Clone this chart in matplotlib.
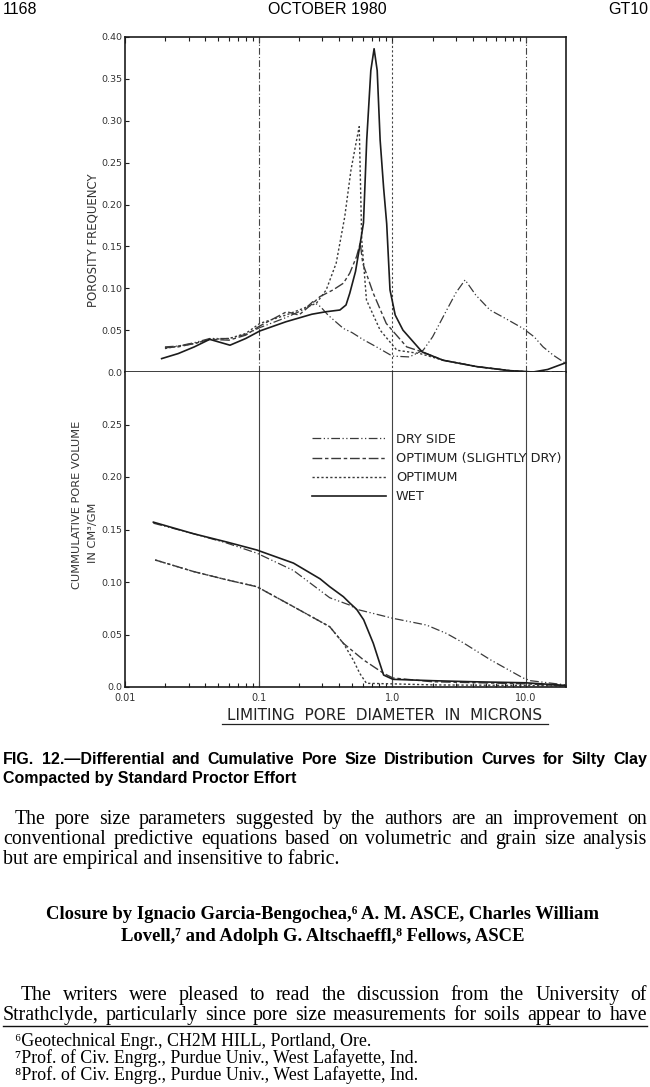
import matplotlib
matplotlib.use("Agg")
import matplotlib.pyplot as plt
from matplotlib.lines import Line2D

# ---------------- data ----------------
# Differential (porosity frequency) curves
wet_dx = [0.0188, 0.025, 0.033, 0.043, 0.061, 0.08, 0.102, 0.16, 0.25, 0.32, 0.405, 0.45, 0.48, 0.53, 0.57,
          0.608, 0.643, 0.69, 0.73, 0.77, 0.81, 0.86, 0.907, 0.96, 1.05, 1.2, 1.67, 2.4, 4.3, 7.6, 11.3, 14.5, 19.8]
wet_dy = [0.016, 0.022, 0.030, 0.039, 0.032, 0.040, 0.049, 0.060, 0.069, 0.072, 0.074, 0.080, 0.094, 0.12, 0.150,
          0.178, 0.277, 0.36, 0.386, 0.36, 0.277, 0.22, 0.177, 0.098, 0.068, 0.050, 0.024, 0.014, 0.0064, 0.0016, 0.0, 0.003, 0.011]

opt_dx = [0.0199, 0.025, 0.033, 0.043, 0.06, 0.08, 0.102, 0.16, 0.27, 0.32, 0.38, 0.44, 0.49, 0.54, 0.565,
          0.59, 0.64, 0.81, 1.08, 1.61, 2.4, 4.3, 7.6, 11.3, 19.8]
opt_dy = [0.028, 0.031, 0.034, 0.039, 0.040, 0.046, 0.058, 0.068, 0.082, 0.098, 0.130, 0.185, 0.241, 0.277, 0.293,
          0.158, 0.086, 0.050, 0.026, 0.022, 0.014, 0.0064, 0.0016, 0.0, 0.0]

sdry_dx = [0.0199, 0.025, 0.033, 0.043, 0.06, 0.08, 0.102, 0.162, 0.2, 0.254, 0.287, 0.36, 0.43, 0.48, 0.54,
           0.575, 0.60, 0.72, 0.90, 1.28, 1.67, 2.4, 4.3, 7.6, 11.3, 19.8]
sdry_dy = [0.029, 0.030, 0.034, 0.039, 0.038, 0.044, 0.055, 0.072, 0.068, 0.082, 0.090, 0.098, 0.106, 0.118, 0.138,
           0.154, 0.130, 0.094, 0.058, 0.030, 0.024, 0.014, 0.0064, 0.0016, 0.0, 0.0]

dry_dx = [0.0199, 0.025, 0.033, 0.043, 0.06, 0.08, 0.102, 0.16, 0.22, 0.254, 0.29, 0.33, 0.43, 0.5, 0.6, 0.76,
          1.0, 1.34, 1.7, 2.0, 2.55, 3.0, 3.5, 4.2, 5.37, 7.0, 9.5, 11.5, 13.4, 16.0, 19.5]
dry_dy = [0.030, 0.031, 0.035, 0.040, 0.040, 0.045, 0.053, 0.065, 0.075, 0.084, 0.078, 0.068, 0.052, 0.047, 0.039, 0.030,
          0.019, 0.018, 0.026, 0.042, 0.074, 0.095, 0.110, 0.092, 0.074, 0.064, 0.052, 0.042, 0.030, 0.020, 0.011]

# Cumulative pore volume curves
wet_cx = [0.0163, 0.0325, 0.058, 0.0967, 0.182, 0.288, 0.34, 0.43, 0.48, 0.54, 0.61, 0.72, 0.79, 0.86, 1.01, 2.0, 4.0, 10.0, 19.8]
wet_cy = [0.157, 0.146, 0.138, 0.1305, 0.118, 0.103, 0.0955, 0.086, 0.080, 0.074, 0.064, 0.0416, 0.0257, 0.0114, 0.0073,
          0.006, 0.005, 0.004, 0.0015]

dry_cx = [0.0163, 0.0325, 0.058, 0.0967, 0.182, 0.34, 0.48, 0.54, 1.01, 1.8, 2.54, 3.4, 5.4, 9.5, 10.8, 19.8]
dry_cy = [0.156, 0.146, 0.137, 0.1275, 0.111, 0.085, 0.078, 0.074, 0.0654, 0.059, 0.051, 0.042, 0.026, 0.0086, 0.006, 0.002]

sdry_cx = [0.0168, 0.0325, 0.058, 0.097, 0.182, 0.34, 0.43, 0.61, 0.86, 1.01, 2.0, 10.0, 19.8]
sdry_cy = [0.121, 0.110, 0.102, 0.0955, 0.0765, 0.0574, 0.0416, 0.0257, 0.013, 0.0086, 0.005, 0.003, 0.001]

opt_cx = [0.0168, 0.0325, 0.058, 0.097, 0.182, 0.34, 0.43, 0.51, 0.57, 0.64, 1.0, 2.0, 10.0, 19.8]
opt_cy = [0.121, 0.110, 0.102, 0.0955, 0.0765, 0.0574, 0.0416, 0.0257, 0.013, 0.0035, 0.003, 0.002, 0.0015, 0.001]

series_labels = ["DRY SIDE", "OPTIMUM (SLIGHTLY DRY)", "OPTIMUM", "WET"]

x_ticks = [0.01, 0.1, 1.0, 10.0]
x_ticklabels = ["0.01", "0.1", "1.0", "10.0"]
top_yticks = [0.0, 0.05, 0.10, 0.15, 0.20, 0.25, 0.30, 0.35, 0.40]
top_yticklabels = ["0.0", "0.05", "0.10", "0.15", "0.20", "0.25", "0.30", "0.35", "0.40"]
bot_yticks = [0.0, 0.05, 0.10, 0.15, 0.20, 0.25]
bot_yticklabels = ["0.0", "0.05", "0.10", "0.15", "0.20", "0.25"]

# ---------------- figure ----------------
W, H = 650, 1087
fig = plt.figure(figsize=(W / 100, H / 100), dpi=100)
fig.patch.set_facecolor("white")

def fx(px):
    return px / W

def fy(py):
    return 1 - py / H

ink = "#1c1c1c"
soft = "#3a3a3a"

styles = {
    "dry": dict(color=soft, lw=0.9, dashes=(7, 2, 1, 2, 1, 2)),
    "sdry": dict(color=soft, lw=1.0, dashes=(7, 2, 2.5, 2)),
    "opt": dict(color=soft, lw=1.0, dashes=(1.6, 1.6)),
    "wet": dict(color=ink, lw=1.2, linestyle="-"),
}

ax1 = fig.add_axes([fx(125), fy(372), (566 - 125) / W, (372 - 37) / H])
ax2 = fig.add_axes([fx(125), fy(687), (566 - 125) / W, (687 - 372) / H])

for ax in (ax1, ax2):
    ax.set_xscale("log")
    ax.set_xlim(0.01, 19.9)
    for sp in ax.spines.values():
        sp.set_color(ink)
        sp.set_linewidth(1.2)
    ax.tick_params(axis="y", which="both", direction="in", length=3, width=0.8, pad=2,
                   labelsize=6.8, labelcolor="#333333", colors=ink)

# vertical reference lines
for xv, d in zip(x_ticks[1:], [(6, 2, 1, 2), (2, 2), (6, 2, 1, 2)]):
    ax1.axvline(xv, color="#444444", lw=0.8, dashes=d)
    ax2.axvline(xv, color="#444444", lw=0.8)

# top panel
ax1.plot(dry_dx, dry_dy, **styles["dry"], clip_on=False)
ax1.plot(sdry_dx, sdry_dy, **styles["sdry"], clip_on=False)
ax1.plot(opt_dx, opt_dy, **styles["opt"], clip_on=False)
ax1.plot(wet_dx, wet_dy, **styles["wet"], clip_on=False)
ax1.set_ylim(0, 0.40)
ax1.set_yticks(top_yticks)
ax1.set_yticklabels(top_yticklabels)
ax1.set_xticks(x_ticks)
ax1.tick_params(axis="x", which="both", direction="in", top=True, bottom=False,
                labelbottom=False, length=4, width=0.8, colors=ink)
ax1.tick_params(axis="x", which="minor", length=3)
fig.text(fx(93), fy(240), "POROSITY FREQUENCY", rotation=90, ha="center", va="center",
         fontsize=8.5, color="#333333")

# bottom panel
h_dry, = ax2.plot(dry_cx, dry_cy, **styles["dry"], clip_on=False)
h_sdry, = ax2.plot(sdry_cx, sdry_cy, **styles["sdry"], clip_on=False)
h_opt, = ax2.plot(opt_cx, opt_cy, **styles["opt"], clip_on=False)
h_wet, = ax2.plot(wet_cx, wet_cy, **styles["wet"], clip_on=False)
ax2.set_ylim(0, 0.30)
ax2.set_yticks(bot_yticks)
ax2.set_yticklabels(bot_yticklabels)
ax2.set_xticks(x_ticks)
ax2.set_xticklabels(x_ticklabels)
ax2.tick_params(axis="x", which="both", direction="in", top=False, bottom=True,
                length=4, width=0.8, pad=4, labelsize=7, labelcolor="#333333", colors=ink)
ax2.tick_params(axis="x", which="minor", length=3)
ax2.spines["top"].set_visible(False)

fig.text(fx(77), fy(505), "CUMMULATIVE PORE VOLUME", rotation=90, ha="center", va="center",
         fontsize=8.2, color="#333333")
fig.text(fx(93), fy(533), "IN CM\u00b3/GM", rotation=90, ha="center", va="center",
         fontsize=8.2, color="#333333")

leg = ax2.legend([h_dry, h_sdry, h_opt, h_wet], series_labels, loc="upper left",
                 bbox_to_anchor=(fx(312), fy(433)), bbox_transform=fig.transFigure,
                 frameon=False, fontsize=9.3, handlelength=5.7, handletextpad=0.8,
                 labelspacing=0.47, borderpad=0, borderaxespad=0)
for t in leg.get_texts():
    t.set_color("#222222")

fig.text(fx(385), fy(716), "LIMITING  PORE  DIAMETER  IN  MICRONS", ha="center", va="center",
         fontsize=11, color="#222222")
fig.add_artist(Line2D([fx(222), fx(548)], [fy(724), fy(724)], color="#222222", lw=0.9))

# ---------------- page text ----------------
sans = ["Liberation Sans", "DejaVu Sans"]
serif = ["Liberation Serif", "DejaVu Serif"]

fig.text(fx(3), fy(14), "1168", family=sans, fontsize=11.5, ha="left", va="baseline")
fig.text(fx(327), fy(14), "OCTOBER 1980", family=sans, fontsize=11.5, ha="center", va="baseline")
fig.text(fx(648), fy(14), "GT10", family=sans, fontsize=11.5, ha="right", va="baseline")

renderer = fig.canvas.get_renderer()

def justify(line, y, x0, x1, **kw):
    words = line.split()
    texts = [fig.text(fx(x0), fy(y), w, ha="left", va="baseline", **kw) for w in words]
    widths = [t.get_window_extent(renderer).width for t in texts]
    gap = (x1 - x0 - sum(widths)) / max(len(words) - 1, 1)
    x = x0
    for t, w in zip(texts, widths):
        t.set_x(fx(x))
        x += w + gap

cap_kw = dict(family=sans, fontsize=11.5, fontweight="bold")
justify("FIG. 12.\u2014Differential and Cumulative Pore Size Distribution Curves for Silty Clay", 764, 3, 647, **cap_kw)
fig.text(fx(3), fy(783), "Compacted by Standard Proctor Effort", ha="left", va="baseline", **cap_kw)

body_kw = dict(family=serif, fontsize=14.3)
justify("The pore size parameters suggested by the authors are an improvement on", 824, 15, 647, **body_kw)
justify("conventional predictive equations based on volumetric and grain size analysis", 844, 3, 647, **body_kw)
fig.text(fx(3), fy(864), "but are empirical and insensitive to fabric.", ha="left", va="baseline", **body_kw)

head_kw = dict(family=serif, fontsize=13.4, fontweight="bold", ha="center", va="baseline")
fig.text(fx(323), fy(919), "Closure by Ignacio Garcia-Bengochea,\u2076 A. M. ASCE, Charles William", **head_kw)
fig.text(fx(323), fy(941), "Lovell,\u2077 and Adolph G. Altschaeffl,\u2078 Fellows, ASCE", **head_kw)

justify("The writers were pleased to read the discussion from the University of", 1000, 21, 647, **body_kw)
justify("Strathclyde, particularly since pore size measurements for soils appear to have", 1020, 3, 647, **body_kw)
fig.add_artist(Line2D([fx(3), fx(647)], [fy(1025.5), fy(1025.5)], color="#111111", lw=1.0))

foot_kw = dict(family=serif, fontsize=12.9, ha="left", va="baseline")
fig.text(fx(15), fy(1046), "\u2076Geotechnical Engr., CH2M HILL, Portland, Ore.", **foot_kw)
fig.text(fx(15), fy(1063), "\u2077Prof. of Civ. Engrg., Purdue Univ., West Lafayette, Ind.", **foot_kw)
fig.text(fx(15), fy(1080), "\u2078Prof. of Civ. Engrg., Purdue Univ., West Lafayette, Ind.", **foot_kw)

fig.savefig("out.png", dpi=100)
